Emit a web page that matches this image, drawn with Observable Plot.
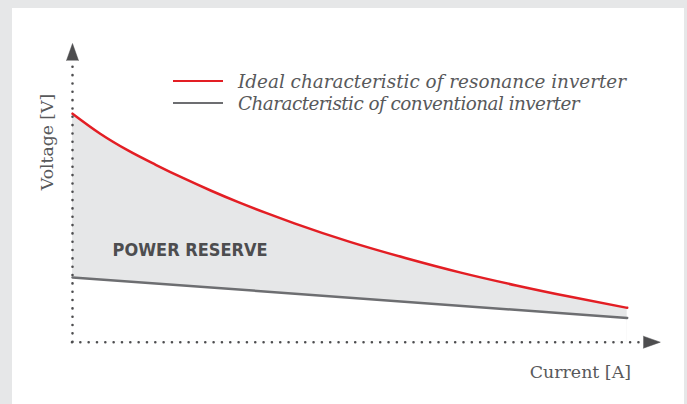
<!DOCTYPE html>
<html>
<head>
<meta charset="utf-8">
<script src="https://cdn.jsdelivr.net/npm/d3@7"></script>
<script src="https://cdn.jsdelivr.net/npm/@observablehq/plot@0.6"></script>
<style>
  html, body { margin: 0; padding: 0; }
  body { width: 687px; height: 404px; background: #e6e7e8; position: relative; overflow: hidden; }
  #chart { position: absolute; left: 12px; top: 8px; width: 672px; height: 396px; background: #fff; }
  #chart svg { display: block; }
  .lbl { position: absolute; font-family: "DejaVu Serif", serif; color: #58595b; white-space: nowrap; }
  .legend { position: absolute; left: 173px; font-family: "DejaVu Serif", serif; font-style: italic; font-size: 18.4px; color: #58595b; white-space: nowrap; display: flex; align-items: center; height: 22px; }
  .sw { width: 50px; height: 2.5px; margin-right: 15px; flex: none; }
</style>
</head>
<body>
<div id="chart"></div>
<div class="legend" style="top:70px"><div class="sw" style="background:#e31e24"></div><span>Ideal characteristic of resonance inverter</span></div>
<div class="legend" style="top:92px"><div class="sw" style="background:#6d6e71"></div><span style="letter-spacing:-0.55px">Characteristic of conventional inverter</span></div>
<div class="lbl" id="ylab" style="font-size:17.2px; left:47px; top:142px; transform: translate(-50%,-50%) rotate(-90deg);">Voltage [V]</div>
<div class="lbl" id="xlab" style="font-size:17.4px; right:56px; top:362px;">Current [A]</div>
<script>
// Data (arbitrary units)
const current = [0, 0.5, 1, 1.5, 2, 2.5, 3, 3.5, 4, 5, 6, 7, 8, 9, 10];
const idealVoltage = [7.65, 6.98, 6.42, 5.94, 5.49, 5.07, 4.68, 4.32, 3.98, 3.36, 2.82, 2.33, 1.90, 1.51, 1.15];
const conventionalCurrent = [0, 10];
const conventionalVoltage = [2.17, 0.81];
const seriesNames = ["Ideal characteristic of resonance inverter", "Characteristic of conventional inverter"];
const annotationLabel = ["POWER RESERVE"];
const annotationAt = [{current: 2.12, voltage: 3.08}];
const axisEnds = {current: 10.22, voltage: 9.35};
const arrowBases = {current: 10.29, voltage: 9.43};

const ideal = current.map((c, i) => ({current: c, voltage: idealVoltage[i], series: seriesNames[0]}));
const conventional = conventionalCurrent.map((c, i) => ({current: c, voltage: conventionalVoltage[i], series: seriesNames[1]}));

const dark = "#4d4d4f";
const chart = Plot.plot({
  width: 672,
  height: 396,
  marginLeft: 60,
  marginRight: 24,
  marginTop: 35,
  marginBottom: 62.3,
  x: {domain: [0, 10.6], axis: null},
  y: {domain: [0, 10], axis: null},
  style: {background: "white", overflow: "visible"},
  marks: [
    Plot.areaY(ideal, {x: "current", y: "voltage", fill: "#e6e7e8", curve: "monotone-x"}),
    Plot.areaY(conventional, {x: "current", y: "voltage", fill: "white"}),
    Plot.line(ideal, {x: "current", y: "voltage", stroke: "#e31e24", strokeWidth: 2.5, curve: "monotone-x"}),
    Plot.line(conventional, {x: "current", y: "voltage", stroke: "#6d6e71", strokeWidth: 2.5}),
    Plot.ruleX([0], {y1: 0, y2: axisEnds.voltage, stroke: dark, strokeWidth: 2.6, strokeDasharray: "0 8.33", strokeLinecap: "round"}),
    Plot.ruleY([0], {x1: 0, x2: axisEnds.current, stroke: dark, strokeWidth: 2.6, strokeDasharray: "0 8.33", strokeLinecap: "round"}),
    Plot.vector([{current: 0, voltage: arrowBases.voltage}], {x: "current", y: "voltage", shape: "spike", length: 17, r: 6, anchor: "start", rotate: 0, fill: dark, stroke: dark, strokeWidth: 0.5}),
    Plot.vector([{current: arrowBases.current, voltage: 0}], {x: "current", y: "voltage", shape: "spike", length: 17, r: 6, anchor: "start", rotate: 90, fill: dark, stroke: dark, strokeWidth: 0.5}),
    Plot.text(annotationAt, {x: "current", y: "voltage", text: () => annotationLabel[0], fill: dark, fontSize: 18, fontWeight: "bold", fontFamily: "'Liberation Sans Narrow', 'DejaVu Sans Condensed', sans-serif"})
  ]
});
document.getElementById("chart").appendChild(chart);
</script>
</body>
</html>
